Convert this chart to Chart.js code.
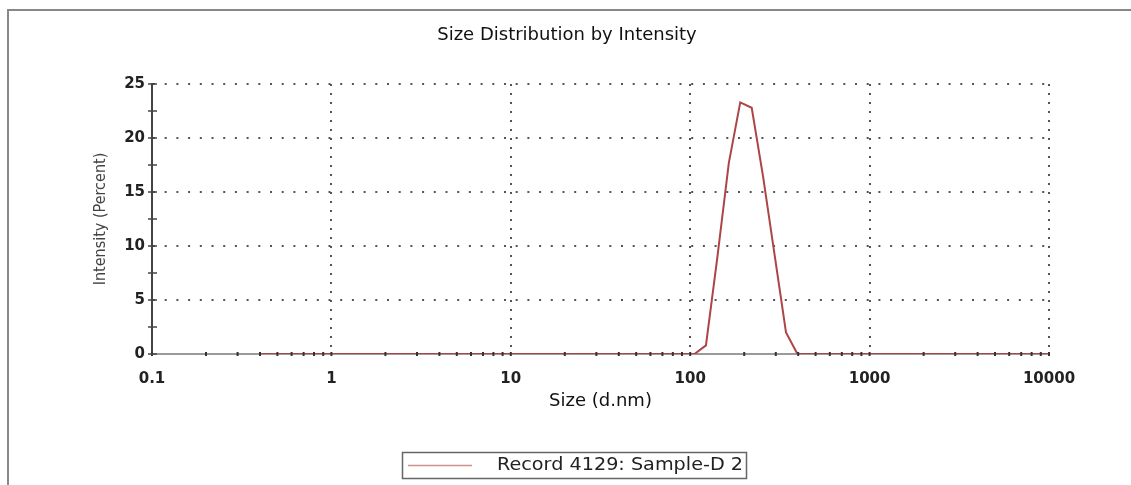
<!DOCTYPE html>
<html>
<head>
<meta charset="utf-8">
<script src="https://cdn.jsdelivr.net/npm/chart.js@4"></script>
<style>
  html, body { margin: 0; padding: 0; background: #fff; }
  #wrap { width: 1131px; height: 485px; }
</style>
</head>
<body>
<div id="wrap"><canvas id="myChart"></canvas></div>
<script>
// size bins (d.nm) and intensity (%)
const sizes = [0.4, 0.4632, 0.5365, 0.6213, 0.7195, 0.8332, 0.9649, 1.117, 1.294, 1.499,
    1.736, 2.01, 2.328, 2.696, 3.122, 3.615, 4.187, 4.849, 5.615, 6.503,
    7.531, 8.721, 10.1, 11.7, 13.54, 15.69, 18.17, 21.04, 24.36, 28.21,
    32.67, 37.84, 43.82, 50.75, 58.77, 68.06, 78.82, 91.28, 105.7, 122.4,
    141.8, 164.2, 190.1, 220.2, 255.0, 295.3, 342.0, 396.1, 458.7, 531.2,
    615.1, 712.4, 825.0, 955.4, 1106, 1281, 1484, 1718, 1990, 2305,
    2669, 3091, 3580, 4145, 4801, 5560, 6439, 7456, 8635, 10000];
const intensity = [0, 0, 0, 0, 0, 0, 0, 0, 0, 0,
    0, 0, 0, 0, 0, 0, 0, 0, 0, 0,
    0, 0, 0, 0, 0, 0, 0, 0, 0, 0,
    0, 0, 0, 0, 0, 0, 0, 0, 0, 0.8,
    9.0, 17.7, 23.3, 22.8, 16.4, 9.2, 2.0, 0, 0, 0,
    0, 0, 0, 0, 0, 0, 0, 0, 0, 0,
    0, 0, 0, 0, 0, 0, 0, 0, 0, 0];
const xTicks = [0.1, 1, 10, 100, 1000, 10000];
const yTicks = [0, 5, 10, 15, 20, 25];
const seriesLabel = 'Record 4129: Sample-D 2';

const lineColor = '#ad4547';
const dotColor = '#555';

// outer frame + tick marks on axes + boxed legend
const extras = {
    id: 'extras',
    beforeDraw(chart) {
        const c = chart.ctx;
        c.save();
        c.fillStyle = '#fff';
        c.fillRect(0, 0, chart.width, chart.height);
        c.strokeStyle = '#888';
        c.lineWidth = 2;
        c.beginPath();
        c.moveTo(8, chart.height);
        c.lineTo(8, 10);
        c.lineTo(chart.width, 10);
        c.stroke();
        c.restore();
    },
    afterDatasetsDraw(chart) {
        const c = chart.ctx;
        const x = chart.scales.x, y = chart.scales.y;
        c.save();
        c.strokeStyle = '#333';
        c.lineWidth = 2;
        x.ticks.forEach(t => {
            const px = x.getPixelForValue(t.value);
            c.beginPath();
            c.moveTo(px, y.bottom - 2);
            c.lineTo(px, y.bottom + 2);
            c.stroke();
        });
        c.strokeStyle = '#444';
        c.lineWidth = 1.5;
        y.ticks.forEach(t => {
            const py = y.getPixelForValue(t.value);
            c.beginPath();
            c.moveTo(x.left - 4, py);
            c.lineTo(x.left + 5, py);
            c.stroke();
        });

        // legend
        const ds = chart.data.datasets[0];
        c.strokeStyle = '#666';
        c.lineWidth = 1.5;
        c.strokeRect(402.5, 452.5, 344, 26);
        c.strokeStyle = '#cf8f91';
        c.lineWidth = 1.5;
        c.beginPath();
        c.moveTo(408, 465.5);
        c.lineTo(472, 465.5);
        c.stroke();
        c.fillStyle = '#222';
        c.font = '17px "DejaVu Sans"';
        c.textBaseline = 'middle';
        const w = c.measureText(ds.label).width;
        c.translate(497, 466);
        c.scale(246 / w, 1);
        c.fillText(ds.label, 0, 0);
        c.restore();
    }
};

const ctx = document.getElementById('myChart');
new Chart(ctx, {
    type: 'line',
    data: {
        datasets: [{
            label: seriesLabel,
            data: sizes.map((s, i) => ({ x: s, y: intensity[i] })),
            borderColor: lineColor,
            borderWidth: 2,
            pointRadius: 0,
            tension: 0,
            fill: false
        }]
    },
    options: {
        responsive: true,
        maintainAspectRatio: false,
        animation: false,
        layout: { padding: { left: 85, right: 82, top: 0, bottom: 71 } },
        plugins: {
            legend: { display: false },
            tooltip: { enabled: false },
            title: {
                display: true,
                text: 'Size Distribution by Intensity',
                color: '#111',
                font: { family: 'DejaVu Sans', size: 18, weight: 'normal' },
                padding: { top: 25, bottom: 37.4 }
            }
        },
        scales: {
            x: {
                type: 'logarithmic',
                min: 0.1,
                max: 10000,
                afterBuildTicks: (scale) => {
                    const t = [];
                    xTicks.forEach((d, i) => {
                        t.push({ value: d, major: true });
                        if (i < xTicks.length - 1) {
                            for (let k = 2; k <= 9; k++) t.push({ value: d * k, major: false });
                        }
                    });
                    scale.ticks = t;
                },
                afterFit: (scale) => { scale.height = 60; },
                ticks: {
                    autoSkip: false,
                    maxRotation: 0,
                    padding: 16,
                    color: '#222',
                    font: { family: 'DejaVu Sans', size: 15, weight: 'bold' },
                    callback: (v) => xTicks.includes(v) ? String(v) : ''
                },
                grid: {
                    drawTicks: false,
                    lineWidth: 2,
                    color: (c) => (c.tick && xTicks.includes(c.tick.value) && c.tick.value !== 0.1) ? dotColor : 'rgba(0,0,0,0)'
                },
                border: { color: '#9a9a9a', width: 2, dash: [2, 7] },
                title: {
                    display: true,
                    text: 'Size (d.nm)',
                    color: '#111',
                    font: { family: 'DejaVu Sans', size: 18 },
                    padding: { top: 0, bottom: 2 }
                }
            },
            y: {
                min: 0,
                max: 25,
                afterFit: (scale) => { scale.width = 67; },
                ticks: {
                    stepSize: 2.5,
                    padding: 7,
                    color: '#222',
                    font: { family: 'DejaVu Sans', size: 15, weight: 'bold' },
                    callback: (v) => yTicks.includes(v) ? String(v) : ''
                },
                grid: {
                    drawTicks: false,
                    lineWidth: 2,
                    color: (c) => (c.tick && yTicks.includes(c.tick.value) && c.tick.value !== 0) ? dotColor : 'rgba(0,0,0,0)'
                },
                border: { color: '#444', width: 2, dash: [2, 9.7] },
                title: {
                    display: true,
                    text: 'Intensity (Percent)',
                    color: '#444',
                    font: { family: '"DejaVu Sans Condensed", "Liberation Sans", sans-serif', size: 16 },
                    padding: { top: 6, bottom: 0 }
                }
            }
        }
    },
    plugins: [extras]
});
</script>
</body>
</html>
